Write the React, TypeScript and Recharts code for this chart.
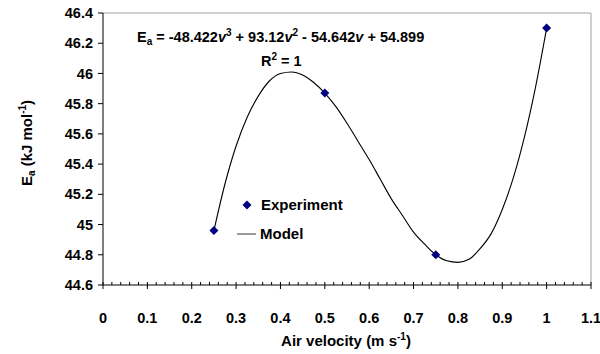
import { ComposedChart, Scatter, Line, XAxis, YAxis, ReferenceLine } from 'recharts';

// measured activation energy per air velocity
const experimentVelocity = [0.25, 0.5, 0.75, 1];
const experimentEa = [44.96, 45.87, 44.8, 46.3];

// fitted cubic
const modelVelocity = [
  0.25, 0.275, 0.3, 0.325, 0.35, 0.375, 0.4, 0.425, 0.45, 0.475, 0.5, 0.525, 0.55, 0.575, 0.6, 0.625,
  0.65, 0.675, 0.7, 0.725, 0.75, 0.775, 0.8, 0.825, 0.85, 0.875, 0.9, 0.925, 0.95, 0.975, 1,
];
const modelEa = [
  44.96, 45.27, 45.52, 45.71, 45.85, 45.95, 46.0, 46.01, 45.99, 45.94, 45.87, 45.78, 45.67, 45.55, 45.43, 45.3,
  45.17, 45.06, 44.95, 44.87, 44.8, 44.76, 44.75, 44.77, 44.84, 44.94, 45.1, 45.31, 45.58, 45.91, 46.3,
];

const xMajorTicks = [0, 0.1, 0.2, 0.3, 0.4, 0.5, 0.6, 0.7, 0.8, 0.9, 1, 1.1];
const yTicks = [44.6, 44.8, 45, 45.2, 45.4, 45.6, 45.8, 46, 46.2, 46.4];

const xAllTicks = xMajorTicks.flatMap((t, i) =>
  i === xMajorTicks.length - 1 ? [t] : [t, ...[1, 2, 3, 4].map((k) => +(t + k * 0.02).toFixed(2))]
);

const experimentData = experimentVelocity.map((v, i) => ({ v, ea: experimentEa[i] }));
const modelData = modelVelocity.map((v, i) => ({ v, ea: modelEa[i] }));

const FONT = '"Liberation Sans", Arial, sans-serif';
const NAVY = '#000080';

const XTick = (props: any) => {
  const { x, y, payload } = props;
  const v = payload.value as number;
  const isMajor = xMajorTicks.some((t) => Math.abs(t - v) < 1e-6);
  return (
    <g>
      <line x1={x} x2={x} y1={y - 3} y2={isMajor ? y + 4 : y} stroke="#000" />
      {isMajor && (
        <text x={x} y={y + 38} textAnchor="middle" fontFamily={FONT} fontWeight="bold" fontSize={14.5} fill="#000">
          {String(v)}
        </text>
      )}
    </g>
  );
};

const Diamond = (props: any) => {
  const { cx, cy } = props;
  const r = 4.5;
  return <polygon points={`${cx},${cy - r} ${cx + r},${cy} ${cx},${cy + r} ${cx - r},${cy}`} fill={NAVY} />;
};

export default function App() {
  const txt = { fontFamily: FONT, fontWeight: 'bold' as const, fill: '#000' };
  return (
    <div style={{ position: 'absolute', left: 0, top: 0, width: 600, height: 354, background: '#fff' }}>
      <ComposedChart width={600} height={354} margin={{ top: 13, right: 9, bottom: 0, left: 0 }}>
        <XAxis
          type="number"
          dataKey="v"
          domain={[0, 1.1]}
          ticks={xAllTicks}
          interval={0}
          height={69}
          tickLine={false}
          tickSize={0}
          tickMargin={0}
          axisLine={{ stroke: '#000' }}
          tick={<XTick />}
        />
        <YAxis
          type="number"
          domain={[44.6, 46.4]}
          ticks={yTicks}
          interval={0}
          width={103}
          tickSize={5}
          tickMargin={5}
          axisLine={{ stroke: '#000' }}
          tickLine={{ stroke: '#000' }}
          tick={{ fill: '#000', fontSize: 14.5, fontWeight: 'bold', fontFamily: FONT }}
        />
        <ReferenceLine y={46.4} stroke="#a0a0a0" />
        <ReferenceLine x={1.1} stroke="#a0a0a0" />
        <Line
          data={modelData}
          dataKey="ea"
          type="monotone"
          stroke="#000"
          strokeWidth={1.1}
          dot={false}
          isAnimationActive={false}
        />
        <Scatter data={experimentData} dataKey="ea" shape={<Diamond />} isAnimationActive={false} />
      </ComposedChart>
      <svg
        width={600}
        height={354}
        style={{ position: 'absolute', left: 0, top: 0, pointerEvents: 'none' }}
      >
        <text x={137} y={42} fontSize={14.5} {...txt}>
          <tspan>E</tspan>
          <tspan fontSize={10} dy={3}>a</tspan>
          <tspan dy={-3}>{' = -48.422'}</tspan>
          <tspan fontStyle="italic">v</tspan>
          <tspan fontSize={10} dy={-6}>3</tspan>
          <tspan dy={6}>{' + 93.12'}</tspan>
          <tspan fontStyle="italic">v</tspan>
          <tspan fontSize={10} dy={-6}>2</tspan>
          <tspan dy={6}>{' - 54.642'}</tspan>
          <tspan fontStyle="italic">v</tspan>
          <tspan>{' + 54.899'}</tspan>
        </text>
        <text x={261} y={66} fontSize={14.5} {...txt}>
          <tspan>R</tspan>
          <tspan fontSize={10} dy={-6}>2</tspan>
          <tspan dy={6}>{' = 1'}</tspan>
        </text>

        <polygon points="247,200.5 251.5,205 247,209.5 242.5,205" fill={NAVY} />
        <text x={261} y={210} fontSize={15} {...txt}>Experiment</text>
        <line x1={237} x2={256} y1={234} y2={234} stroke="#777" strokeWidth={1.5} />
        <text x={260} y={239} fontSize={15} {...txt}>Model</text>

        <text x={346} y={346} fontSize={15} textAnchor="middle" {...txt}>
          <tspan>Air velocity (m s</tspan>
          <tspan fontSize={10} dy={-6}>-1</tspan>
          <tspan dy={6}>)</tspan>
        </text>
        <text transform="translate(32,143) rotate(-90)" fontSize={15} textAnchor="middle" {...txt}>
          <tspan>E</tspan>
          <tspan fontSize={10} dy={3}>a</tspan>
          <tspan dy={-3}>{' (kJ mol'}</tspan>
          <tspan fontSize={10} dy={-6}>-1</tspan>
          <tspan dy={6}>)</tspan>
        </text>
      </svg>
    </div>
  );
}
